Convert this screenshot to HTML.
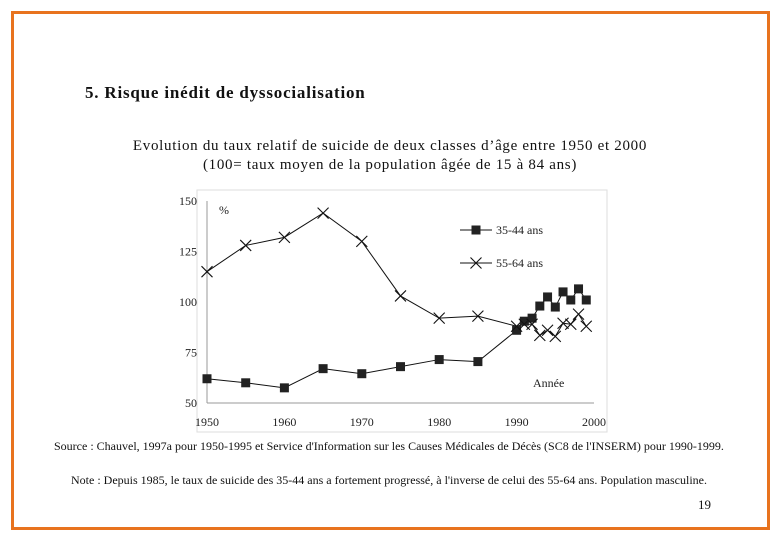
<!DOCTYPE html>
<html><head><meta charset="utf-8"><style>
body{margin:0;width:780px;height:540px;background:#fff;font-family:"Liberation Serif",serif;position:relative;overflow:hidden}
.t{position:absolute;white-space:nowrap;color:#111}
</style></head><body>
<div style="position:absolute;left:11px;top:11px;width:753px;height:513px;border:3px solid #e8731e"></div>
<div class="t" style="left:85px;top:83px;font-size:17px;font-weight:bold;letter-spacing:0.8px">5. Risque inédit de dyssocialisation</div>
<div class="t" style="left:0;width:780px;text-align:center;top:137px;font-size:15px;line-height:19px;letter-spacing:0.7px">Evolution du taux relatif de suicide de deux classes d’âge entre 1950 et 2000<br>(100= taux moyen de la population âgée de 15 à 84 ans)</div>
<svg style="position:absolute;left:0;top:0" width="780" height="540" font-family="Liberation Serif, serif">
<rect x="197" y="190" width="410" height="242" fill="none" stroke="#ddd"/>
<g id="g"></g>
</svg>
<div class="t" style="left:54px;top:439px;font-size:12px">Source : Chauvel, 1997a pour 1950-1995 et Service d'Information sur les Causes Médicales de Décès (SC8 de l'INSERM) pour 1990-1999.</div>
<div class="t" style="left:71px;top:473px;font-size:12px">Note : Depuis 1985, le taux de suicide des 35-44 ans a fortement progressé, à l'inverse de celui des 55-64 ans. Population masculine.</div>
<div class="t" style="left:698px;top:497px;font-size:13px">19</div>
<script>
const years=[1950,1955,1960,1965,1970,1975,1980,1985,1990,1991,1992,1993,1994,1995,1996,1997,1998,1999];
const s3544=[62,60,57.5,67,64.5,68,71.5,70.5,86,90.5,92,98,102.5,97.5,105,101,106.5,101];
const s5564=[115,128,132,144,130,103,92,93,88,89,89,83.5,86,83,89.5,89,94,88];
const xTicks=[1950,1960,1970,1980,1990,2000];
const yTicks=[50,75,100,125,150];
const NS="http://www.w3.org/2000/svg";
const g=document.getElementById('g');
const X=v=>207+(v-1950)*(387/50);
const Y=v=>403-(v-50)*2.02;
function el(t,a){const e=document.createElementNS(NS,t);for(const k in a)e.setAttribute(k,a[k]);g.appendChild(e);return e;}
let ax=el('line',{x1:X(1950),y1:Y(150),x2:X(1950),y2:Y(50),stroke:'#999'});

ax=el('line',{x1:X(1950),y1:Y(50),x2:X(2000),y2:Y(50),stroke:'#999'});

yTicks.forEach(v=>{const t=el('text',{x:X(1950)-10,y:Y(v)+4,'text-anchor':'end','font-size':12,fill:'#222'});t.textContent=v;
});
xTicks.forEach(v=>{const t=el('text',{x:X(v),y:Y(50)+23,'text-anchor':'middle','font-size':12,fill:'#222'});t.textContent=v;
});
let t=el('text',{x:219,y:214,'font-size':12,fill:'#222'});t.textContent='%';

t=el('text',{x:533,y:387,'font-size':12,fill:'#222'});t.textContent='Année';

function line(d,name){const p=el('polyline',{points:years.map((y,i)=>X(y)+','+Y(d[i])).join(' '),fill:'none',stroke:'#111','stroke-width':1});
}
function sq(x,y,name){const r=el('rect',{x:x-4.5,y:y-4.5,width:9,height:9,fill:'#222'});}
function cr(x,y,name){const p=el('path',{d:`M${x-5.5} ${y-5.5}L${x+5.5} ${y+5.5}M${x+5.5} ${y-5.5}L${x-5.5} ${y+5.5}`,stroke:'#111','stroke-width':1.1});}
line(s3544,'line-35-44');line(s5564,'line-55-64');
years.forEach((y,i)=>{sq(X(y),Y(s3544[i]),'point-35-44');cr(X(y),Y(s5564[i]),'point-55-64');});
el('line',{x1:460,y1:230,x2:492,y2:230,stroke:'#111'});sq(476,230,'legend-marker-35-44');
t=el('text',{x:496,y:234,'font-size':12,fill:'#222'});t.textContent='35-44 ans';

el('line',{x1:460,y1:263,x2:492,y2:263,stroke:'#111'});cr(476,263,'legend-marker-55-64');
t=el('text',{x:496,y:267,'font-size':12,fill:'#222'});t.textContent='55-64 ans';

</script>
</body></html>
